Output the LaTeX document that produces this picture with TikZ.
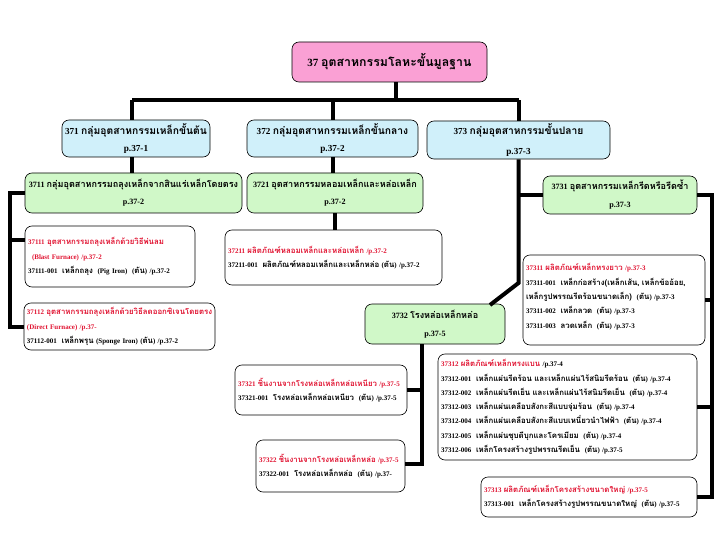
\documentclass[tikz,border=0pt]{standalone}
\usepackage{fontspec}
\setmainfont{Liberation Serif}
\newfontfamily\thaifont[Script=Thai,Scale=1.12]{Loma}
\newcommand{\T}[1]{{\thaifont #1}}
\definecolor{pinkf}{RGB}{250,160,212}
\definecolor{cyanf}{RGB}{208,240,250}
\definecolor{greenf}{RGB}{208,248,200}
\definecolor{redt}{RGB}{225,20,50}
\tikzset{
 box/.style={draw=black, rounded corners=7pt, line width=0.6pt, align=center, inner sep=2pt},
 pbox/.style={box, fill=pinkf, font=\bfseries\fontsize{11}{14}\selectfont},
 cbox/.style={box, fill=cyanf, font=\bfseries\fontsize{9.2}{17}\selectfont},
 gbox/.style={box, fill=greenf, font=\bfseries\fontsize{8.1}{17}\selectfont},
 wbox/.style={box, fill=white, align=left, font=\bfseries\fontsize{7}{14.3}\selectfont},
 conn/.style={line width=4pt},
}
\newcommand{\rt}[1]{\mbox{\color{redt}#1}}
\newcommand{\Ln}[1]{\mbox{#1}}
\begin{document}
\begin{tikzpicture}[x=1pt,y=-1pt]
\useasboundingbox (0,0) rectangle (720,540);
% level 1-2
\node[pbox, minimum width=195, minimum height=40] (n37) at (389.5,62) {37 \T{อุตสาหกรรมโลหะขั้นมูลฐาน}};
\node[cbox, minimum width=148, minimum height=37] (n371) at (136,138.5) {371 \T{กลุ่มอุตสาหกรรมเหล็กขั้นต้น}\\p.37-1};
\node[cbox, minimum width=171, minimum height=37] (n372) at (332.5,138.5) {372 \T{กลุ่มอุตสาหกรรมเหล็กขั้นกลาง}\\p.37-2};
\node[cbox, font=\bfseries\fontsize{9.2}{20}\selectfont, minimum width=183, minimum height=38] (n373) at (518.5,140) {373 \T{กลุ่มอุตสาหกรรมขั้นปลาย}\\p.37-3};
% level 3
\node[gbox, minimum width=217, minimum height=40] (n3711) at (133.5,193) {3711 \T{กลุ่มอุตสาหกรรมถลุงเหล็กจากสินแร่เหล็กโดยตรง}\\p.37-2};
\node[gbox, minimum width=176, minimum height=40] (n3721) at (335,193) {3721 \T{อุตสาหกรรมหลอมเหล็กและหล่อเหล็ก}\\p.37-2};
\node[gbox, font=\bfseries\fontsize{8.1}{18}\selectfont, minimum width=154, minimum height=38] (n3731) at (620,195) {3731 \T{อุตสาหกรรมเหล็กรีดหรือรีดซ้ำ}\\p.37-3};
\node[gbox, font=\bfseries\fontsize{8.1}{18}\selectfont, minimum width=140, minimum height=40] (n3732) at (435,324) {3732 \T{โรงหล่อเหล็กหล่อ}\\p.37-5};
% level 4
\node[wbox, minimum width=170, minimum height=61, text width=164] (n37111) at (110,256.5) {\rt{37111 \T{อุตสาหกรรมถลุงเหล็กด้วยวิธีพ่นลม}}\\\rt{\hspace{4pt}(Blast Furnace) /p.37-2}\\\Ln{37111-001~ \T{เหล็กถลุง}~ (Pig Iron)~ (\T{ตัน}) /p.37-2}};
\node[wbox, minimum width=191, minimum height=47, text width=185] (n37112) at (119.5,326.5) {\rt{37112 \T{อุตสาหกรรมถลุงเหล็กด้วยวิธีลดออกซิเจนโดยตรง}}\\\rt{(Direct Furnace) /p.37-}\\\Ln{37112-001~ \T{เหล็กพรุน} (Sponge Iron) (\T{ตัน}) /p.37-2}};
\node[wbox, minimum width=217, minimum height=55, text width=211] (n37211) at (333.5,257.5) {\rt{37211 \T{ผลิตภัณฑ์หลอมเหล็กและหล่อเหล็ก} /p.37-2}\\\Ln{37211-001~ \T{ผลิตภัณฑ์หลอมเหล็กและเหล็กหล่อ} (\T{ตัน}) /p.37-2}};
\node[wbox, minimum width=182, minimum height=90, text width=176] (n37311) at (614,300) {\rt{37311 \T{ผลิตภัณฑ์เหล็กทรงยาว} /p.37-3}\\\Ln{37311-001~ \T{เหล็กก่อสร้าง(เหล็กเส้น, เหล็กข้ออ้อย,}}\\\Ln{\T{เหล็กรูปพรรณรีดร้อนขนาดเล็ก)}~ (\T{ตัน}) /p.37-3}\\\Ln{37311-002~ \T{เหล็กลวด}~ (\T{ตัน}) /p.37-3}\\\Ln{37311-003~ \T{ลวดเหล็ก}~ (\T{ตัน}) /p.37-3}\\[-6pt]\mbox{}};
\node[wbox, minimum width=259, minimum height=106, text width=253] (n37312) at (567.5,407) {\rt{37312 \T{ผลิตภัณฑ์เหล็กทรงแบน}} /p.37-4\\\Ln{37312-001~ \T{เหล็กแผ่นรีดร้อน และเหล็กแผ่นไร้สนิมรีดร้อน}~ (\T{ตัน}) /p.37-4}\\\Ln{37312-002~ \T{เหล็กแผ่นรีดเย็น และเหล็กแผ่นไร้สนิมรีดเย็น}~ (\T{ตัน}) /p.37-4}\\\Ln{37312-003~ \T{เหล็กแผ่นเคลือบสังกะสีแบบจุ่มร้อน}~ (\T{ตัน}) /p.37-4}\\\Ln{37312-004~ \T{เหล็กแผ่นเคลือบสังกะสีแบบเหนี่ยวนำไฟฟ้า}~ (\T{ตัน}) /p.37-4}\\\Ln{37312-005~ \T{เหล็กแผ่นชุบดีบุกและโครเมียม}~ (\T{ตัน}) /p.37-4}\\\Ln{37312-006~ \T{เหล็กโครงสร้างรูปพรรณรีดเย็น}~ (\T{ตัน}) /p.37-5}};
\node[wbox, minimum width=216, minimum height=40, text width=210] (n37313) at (589,497) {\rt{37313 \T{ผลิตภัณฑ์เหล็กโครงสร้างขนาดใหญ่} /p.37-5}\\\Ln{37313-001~ \T{เหล็กโครงสร้างรูปพรรณขนาดใหญ่}~ (\T{ตัน}) /p.37-5}};
\node[wbox, minimum width=172, minimum height=50, text width=166] (n37321) at (321,390) {\rt{37321 \T{ชิ้นงานจากโรงหล่อเหล็กหล่อเหนียว} /p.37-5}\\\Ln{37321-001~ \T{โรงหล่อเหล็กหล่อเหนียว}~ (\T{ตัน}) /p.37-5}};
\node[wbox, minimum width=149, minimum height=52, text width=143] (n37322) at (330.5,466) {\rt{37322 \T{ชิ้นงานจากโรงหล่อเหล็กหล่อ} /p.37-5}\\\Ln{37322-001~ \T{โรงหล่อเหล็กหล่อ}~ (\T{ตัน}) /p.37-}};
% connectors
\coordinate (top) at (396,100);
\coordinate (busL) at (132,100);
\coordinate (busR) at (518.5,100);
\draw[conn] (n37.south -| top) -- (top);
\draw[conn] (busL) -- (busR);
\draw[conn] (n371.north -| busL) -- (busL);
\draw[conn] (n372.north) -- (n372.north |- busL);
\draw[conn] (n373.north) -- (n373.north |- busR);
\draw[conn] (n371.south -| busL) -- (n3711.north -| busL);
\draw[conn] (n372.south) -- (n372.south |- n3721.north);
\draw[conn] (n3721.south) -- (n3721.south |- n37211.north);
% left bus
\coordinate (lb) at (10,326.5);
\coordinate (lb1) at (10,240);
\draw[conn] (n3711.west) -| (lb) -- (n37112.west);
\draw[conn] (lb1) -- (lb1 -| n37111.west);
% 373 bus
\coordinate (k373) at (518.5,283);
\coordinate (k3732) at (490,305);
\draw[conn] (n373.south) -- (k373) -- (k3732);
\draw[conn] (n3731.west) -- (n3731.west -| n373.south);
% right bus
\coordinate (rb) at (712,497);
\draw[conn] (n3731.east) -| (rb) -- (n37313.east);
\draw[conn] (n37311.east) -- (n37311.east -| rb);
\draw[conn] (n37312.east) -- (n37312.east -| rb);
% 3732 bus
\coordinate (cb) at (422,464);
\draw[conn] (n3732.south -| cb) -- (cb) -- (cb -| n37322.east);
\draw[conn] (n37321.east) -- (n37321.east -| cb);
\end{tikzpicture}
\end{document}
